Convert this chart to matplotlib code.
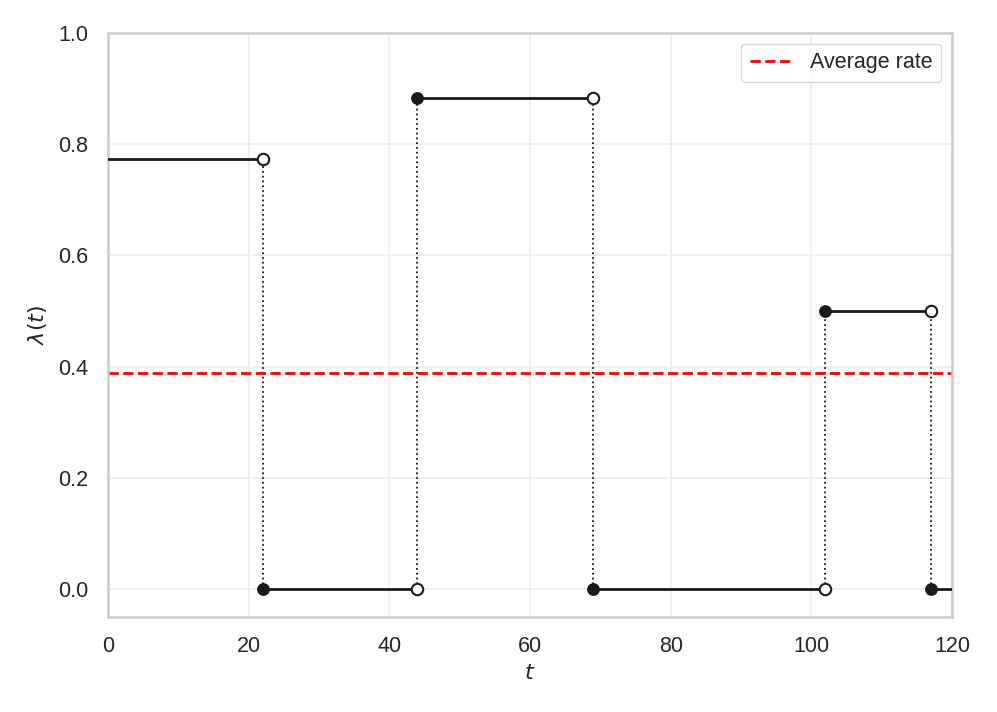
import matplotlib
matplotlib.use("Agg")
import matplotlib.pyplot as plt
import seaborn as sns

# 分段常数强度函数
breaks = [0, 22, 44, 69, 102, 117, 120]
rates = [0.773, 0.0, 0.884, 0.0, 0.5, 0.0]
avg_rate = 0.388

sns.set_theme(style="whitegrid")
plt.rcParams["font.family"] = ["Liberation Sans", "DejaVu Sans"]
plt.rcParams["mathtext.fontset"] = "dejavusans"

fig = plt.figure(figsize=(9.97, 7.12), dpi=100)
ax = fig.add_axes([108 / 997, 1 - 617 / 712, 844 / 997, 584 / 712])

for i, r in enumerate(rates):
    t0, t1 = breaks[i], breaks[i + 1]
    ax.plot([t0, t1], [r, r], color="#1a1a1a", lw=2.0, zorder=3)
    if i > 0:
        ax.plot(t0, r, "o", color="#1a1a1a", ms=8.2, zorder=4)
    if i < len(rates) - 1:
        ax.plot(t1, r, "o", mfc="white", mec="#1a1a1a", mew=1.5, ms=8.2, zorder=4)
        lo, hi = sorted([r, rates[i + 1]])
        ax.plot([t1, t1], [lo, hi], ":", color="#1a1a1a", lw=1.3, zorder=2)

ax.axhline(avg_rate, color="red", ls="--", lw=2.0, label="Average rate", zorder=2)

ax.set_xlim(0, 120)
ax.set_ylim(-0.05, 1.0)
ax.set_xticks([0, 20, 40, 60, 80, 100, 120])
ax.set_yticks([0.0, 0.2, 0.4, 0.6, 0.8, 1.0])
ax.tick_params(labelsize=15.5, colors="#262626", pad=8)
ax.set_xlabel("$t$", fontsize=16, labelpad=4)
ax.set_ylabel(r"$\lambda(t)$", fontsize=16, labelpad=7)
ax.grid(color="#ececec", lw=1.2)
for s in ax.spines.values():
    s.set_color("#cccccc")
    s.set_linewidth(1.8)
ax.legend(loc="upper right", fontsize=15.5, frameon=True)

fig.savefig("out.png", dpi=100)
